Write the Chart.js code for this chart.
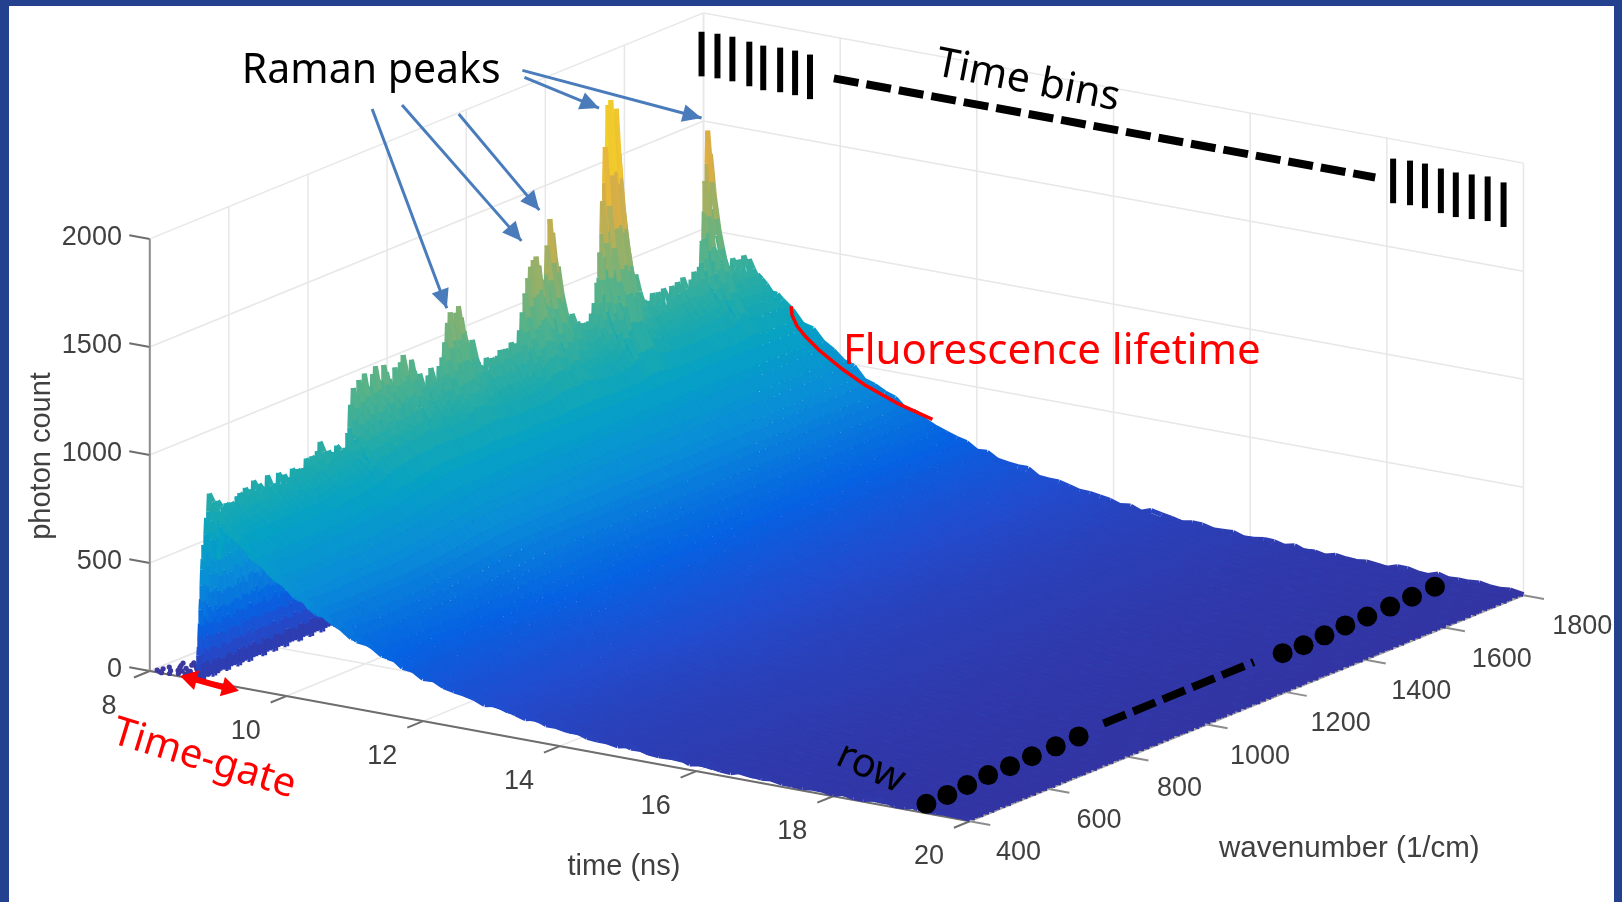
<!DOCTYPE html>
<html lang="en">

<head>
    <meta charset="UTF-8">
    <title>Time-gated Raman surface</title>
    <script src="https://cdn.jsdelivr.net/npm/chart.js"></script>
    <style>
        html, body { margin: 0; background: #fff; overflow: hidden; }
        #plot { position: absolute; left: 0; top: 0; }
        #frame {
            position: absolute; left: 0; top: 0; width: 1622px; height: 902px; box-sizing: border-box;
            border-style: solid; border-color: #24418f; border-width: 6px 8px 0 9px; pointer-events: none;
        }
    </style>
</head>

<body>
    <canvas id="plot" width="1622" height="902"></canvas>
    <div id="frame"></div>

    <script>
        const timeTicks = [8, 10, 12, 14, 16, 18, 20];
        const waveTicks = [400, 600, 800, 1000, 1200, 1400, 1600, 1800];
        const countTicks = [0, 500, 1000, 1500, 2000];

        // photon count along the top ridge, one value every 7 1/cm from 400 to 1800
        const ridgeCounts = [
            620, 740, 855, 795, 770, 800, 750, 745, 775, 735,
            765, 725, 780, 800, 755, 810, 765, 795, 825, 775,
            805, 750, 780, 820, 775, 745, 775, 810, 760, 795,
            745, 770, 810, 770, 800, 755, 795, 830, 795, 835,
            785, 845, 880, 825, 795, 825, 775, 805, 835, 785,
            765, 805, 870, 990, 1070, 1030, 1095, 1040, 1110, 1050,
            1035, 1100, 1125, 1060, 1040, 1120, 1075, 1045, 1010, 1085,
            1040, 1100, 1120, 1040, 1000, 1085, 1035, 995, 1010, 940,
            915, 980, 1015, 955, 945, 1010, 1035, 1110, 1190, 1235,
            1165, 1225, 1245, 1190, 1125, 1070, 1030, 1060, 980, 950,
            930, 890, 960, 895, 950, 890, 945, 965, 900, 955,
            915, 980, 920, 970, 1015, 1100, 1180, 1250, 1290, 1320,
            1335, 1280, 1215, 1200, 1365, 1477, 1410, 1280, 1245, 1110,
            985, 1010, 950, 1000, 925, 955, 895, 935, 880, 935,
            960, 1010, 1090, 1230, 1460, 1710, 1890, 1917, 1820, 1860,
            1650, 1370, 1120, 1070, 1110, 1010, 1060, 950, 860, 925,
            860, 915, 940, 870, 930, 875, 940, 860, 910, 935,
            870, 940, 890, 955, 895, 870, 935, 960, 890, 970,
            1090, 1360, 1592, 1470, 1220, 1020, 940, 890, 940, 870,
            920, 955, 880, 935, 870, 940, 860, 910, 830, 835,
            828
        ];

        // the smooth fluorescence level under that ridge, same wavenumbers
        const fluorCounts = [
            620, 720, 746, 748, 750, 750, 750, 750, 748, 746,
            744, 742, 740, 740, 742, 744, 746, 748, 750, 752,
            752, 752, 752, 752, 752, 752, 752, 752, 754, 754,
            754, 754, 756, 756, 758, 758, 760, 762, 764, 766,
            768, 770, 772, 774, 776, 778, 780, 782, 786, 790,
            794, 798, 802, 806, 810, 814, 818, 822, 826, 830,
            834, 838, 840, 844, 846, 850, 852, 854, 856, 858,
            860, 860, 860, 860, 860, 860, 860, 860, 860, 860,
            860, 860, 860, 860, 860, 860, 860, 860, 860, 860,
            860, 860, 860, 860, 860, 860, 860, 860, 860, 860,
            860, 860, 860, 860, 860, 860, 860, 860, 860, 860,
            860, 860, 860, 860, 860, 860, 860, 860, 860, 860,
            860, 860, 860, 860, 860, 860, 860, 860, 860, 860,
            860, 860, 860, 860, 860, 860, 860, 860, 860, 860,
            860, 860, 860, 860, 860, 860, 860, 860, 860, 860,
            860, 860, 860, 860, 860, 860, 860, 860, 860, 860,
            860, 860, 860, 860, 860, 860, 860, 860, 860, 860,
            860, 860, 860, 860, 860, 860, 860, 860, 860, 860,
            860, 860, 860, 860, 860, 860, 860, 860, 860, 860,
            860, 860, 860, 860, 860, 855, 850, 845, 830, 828,
            825
        ];

        // sample times, with the fluorescence fraction and the prompt Raman fraction left at each one
        const decayTimes = [
            8.700, 8.708, 8.716, 8.724, 8.732, 8.740, 8.748, 8.756, 8.764, 8.772, 8.780, 8.790,
            8.85, 8.92, 9.00, 9.08, 9.15, 9.30, 9.45, 9.60, 9.75, 9.90, 10.05, 10.20, 10.35, 10.50, 10.65,
            10.80, 10.95, 11.10, 11.25, 11.40, 11.55, 11.70, 11.85, 12.00, 12.15, 12.30, 12.45,
            12.60, 12.75, 12.90, 13.05, 13.20, 13.35, 13.50, 13.65, 13.80, 13.95, 14.10, 14.25,
            14.40, 14.55, 14.70, 14.85, 15.00, 15.15, 15.30, 15.45, 15.60, 15.75, 15.90, 16.05,
            16.20, 16.35, 16.50, 16.65, 16.80, 16.95, 17.10, 17.25, 17.40, 17.55, 17.70, 17.85,
            18.00, 18.15, 18.30, 18.45, 18.60, 18.75, 18.90, 19.05, 19.20, 19.35, 19.50, 19.65,
            19.80, 20.00
        ];
        const decayLevels = [
            0, 0.08, 0.16, 0.24, 0.32, 0.40, 0.50, 0.60, 0.70, 0.80, 0.90, 1,
            0.985, 0.95, 0.92, 0.90, 0.875, 0.84, 0.775, 0.75, 0.68, 0.66, 0.60, 0.58, 0.525, 0.505, 0.46,
            0.445, 0.40, 0.385, 0.36, 0.33, 0.315, 0.285, 0.275, 0.245, 0.237, 0.212, 0.206,
            0.184, 0.18, 0.158, 0.153, 0.136, 0.134, 0.116, 0.113, 0.10, 0.098, 0.085, 0.084,
            0.071, 0.071, 0.061, 0.061, 0.052, 0.052, 0.044, 0.045, 0.037, 0.038, 0.031, 0.032,
            0.026, 0.028, 0.022, 0.024, 0.018, 0.021, 0.015, 0.018, 0.013, 0.016, 0.011, 0.014,
            0.010, 0.012, 0.008, 0.011, 0.007, 0.010, 0.006, 0.008, 0.005, 0.007, 0.004, 0.006,
            0.003, 0.002
        ];
        const promptLevels = [
            0, 0.08, 0.16, 0.24, 0.32, 0.40, 0.50, 0.60, 0.70, 0.80, 0.90, 1,
            0.7, 0.5, 0.35, 0.25, 0.15, 0.06, 0.02,
            0, 0, 0, 0, 0, 0, 0, 0, 0, 0,
            0, 0, 0, 0, 0, 0, 0, 0, 0, 0,
            0, 0, 0, 0, 0, 0, 0, 0, 0, 0,
            0, 0, 0, 0, 0, 0, 0, 0, 0, 0,
            0, 0, 0, 0, 0, 0, 0, 0, 0, 0,
            0, 0, 0, 0, 0, 0, 0, 0, 0, 0,
            0, 0, 0, 0, 0, 0, 0, 0, 0, 0
        ];

        // shot noise on the surface, counts, walked through by wavenumber and time
        const shotNoise = [
            5, 2, 9, 3, 11, 1, 7, 4, 12, 2, 8, 1, 10, 5, 7, 3, 12, 2, 6, 9,
            1, 11, 4, 7, 2, 10, 5, 1, 9, 3, 12, 2, 7, 5, 11, 3, 8
        ];

        // sparse counts before the gate opens
        const gateTimes = [
            8.05, 8.10, 8.12, 8.18, 8.20, 8.24, 8.27, 8.30, 8.31, 8.35, 8.38, 8.40, 8.42, 8.45, 8.47, 8.50, 8.52, 8.55,
            8.57, 8.60, 8.62, 8.64, 8.66, 8.68, 8.08, 8.16, 8.22, 8.28, 8.33, 8.37, 8.43, 8.48, 8.53, 8.58, 8.63, 8.67,
            8.14, 8.26, 8.36, 8.44, 8.51, 8.59, 8.65, 8.34, 8.41, 8.49, 8.56, 8.61, 8.46, 8.54, 8.69, 8.39, 8.29, 8.62
        ];
        const gateWaves = [
            410, 432, 405, 448, 418, 470, 425, 440, 480, 412, 462, 500, 430, 478, 408, 452, 510, 425,
            468, 440, 498, 415, 520, 455, 420, 402, 438, 458, 425, 490, 445, 515, 470, 408, 478, 432,
            460, 405, 455, 415, 435, 495, 480, 505, 470, 420, 505, 460, 530, 445, 410, 430, 490, 505
        ];

        const colorLevels = [0, 30, 120, 250, 450, 650, 800, 1050, 1250, 1500, 1900];
        const colorValues = [
            [52, 50, 158], [46, 60, 176], [34, 76, 206], [6, 98, 226], [10, 140, 216], [6, 162, 196],
            [30, 170, 172], [84, 178, 138], [150, 176, 104], [226, 174, 66], [250, 220, 30]
        ];

        function project(t, w, z) {
            return {
                x: 146.5 + (t - 8) * 68.67 + (w - 400) * 0.3975,
                y: 673 + (t - 8) * 12.63 - (w - 400) * 0.16286 - z * 0.218
            };
        }

        function colorFor(z) {
            let i = 0;
            while (i < colorLevels.length - 2 && z > colorLevels[i + 1]) i++;
            const f = Math.min(1, (z - colorLevels[i]) / (colorLevels[i + 1] - colorLevels[i]));
            const a = colorValues[i], b = colorValues[i + 1];
            return `rgb(${a[0] + (b[0] - a[0]) * f}, ${a[1] + (b[1] - a[1]) * f}, ${a[2] + (b[2] - a[2]) * f})`;
        }

        function lineSet(points, color, width) {
            return { data: points, showLine: true, borderColor: color, borderWidth: width, pointRadius: 0 };
        }

        const datasets = [];

        // strips of the surface, nearest first because dataset 0 is painted last
        ridgeCounts.forEach(function (count, i) {
            const w = 400 + i * 7;
            const fluor = fluorCounts[i];
            const raman = Math.max(0, count - fluor);
            const edge = (i < 1 || i > 199) ? 1.5 : 1;
            const heights = decayLevels.map(function (level, j) {
                const noise = shotNoise[(i + j * 5) % shotNoise.length] * edge;
                // the first strips stay at the full fluorescence level once the decay has started
                const base = i < 2 && j > 14 ? 800 : fluor;
                return level === 0 ? 0 : base * level + raman * promptLevels[j] + noise;
            });
            datasets.push({
                data: decayTimes.map((t, j) => project(t, w, heights[j])),
                showLine: true,
                borderWidth: 5,
                borderCapStyle: 'butt',
                pointRadius: 0,
                segment: {
                    borderColor: ctx => colorFor((heights[ctx.p0DataIndex] + heights[ctx.p1DataIndex]) / 2)
                }
            });
        });

        datasets.push({
            data: gateTimes.map((t, i) => project(t, gateWaves[i], 0)),
            pointRadius: 2.6,
            pointBorderWidth: 0,
            pointBackgroundColor: '#3b38a0'
        });

        // axes and their ticks
        const timeAxis = lineSet([project(8, 400, 0), project(20, 400, 0)], '#6e6e6e', 2);
        const waveAxis = lineSet([project(20, 400, 0), project(20, 1800, 0)], '#a2a2a2', 2);
        const countAxis = lineSet([project(8, 400, 0), project(8, 400, 2000)], '#8c8c8c', 2);
        datasets.push(timeAxis, waveAxis, countAxis);
        timeTicks.forEach(t => datasets.push(lineSet([project(t, 400, 0), project(t, 360, 0)], '#6e6e6e', 2)));
        waveTicks.forEach(w => datasets.push(lineSet([project(20, w, 0), project(20.3, w, 0)], '#8c8c8c', 2)));
        countTicks.forEach(z => datasets.push(lineSet([project(8, 400, z), project(7.7, 400, z)], '#6e6e6e', 2)));

        // grid on the floor and the two back walls
        const gridColor = '#e7e7e7';
        timeTicks.forEach(function (t) {
            datasets.push(lineSet([project(t, 400, 0), project(t, 1800, 0)], gridColor, 1.5));
            datasets.push(lineSet([project(t, 1800, 0), project(t, 1800, 2000)], gridColor, 1.5));
        });
        waveTicks.forEach(function (w) {
            datasets.push(lineSet([project(8, w, 0), project(20, w, 0)], gridColor, 1.5));
            datasets.push(lineSet([project(8, w, 0), project(8, w, 2000)], gridColor, 1.5));
        });
        countTicks.forEach(function (z) {
            datasets.push(lineSet([project(8, 400, z), project(8, 1800, z)], gridColor, 1.5));
            datasets.push(lineSet([project(8, 1800, z), project(20, 1800, z)], gridColor, 1.5));
        });

        const labelPlugin = {
            id: 'labels',
            afterDatasetsDraw(chart) {
                const c = chart.ctx;
                const px = v => chart.scales.x.getPixelForValue(v);
                const py = v => chart.scales.y.getPixelForValue(v);

                function text(str, x, y, font, color, angle, align) {
                    c.save();
                    c.translate(px(x), py(y));
                    c.rotate((angle || 0) * Math.PI / 180);
                    c.font = font;
                    c.fillStyle = color;
                    c.textAlign = align || 'center';
                    c.textBaseline = 'middle';
                    c.fillText(str, 0, 0);
                    c.restore();
                }

                function stroke(points, color, width, dash) {
                    c.save();
                    c.beginPath();
                    points.forEach((p, i) => i ? c.lineTo(px(p[0]), py(p[1])) : c.moveTo(px(p[0]), py(p[1])));
                    c.strokeStyle = color;
                    c.lineWidth = width;
                    c.lineJoin = 'round';
                    c.setLineDash(dash || []);
                    c.stroke();
                    c.restore();
                }

                function head(from, to, color, len, half) {
                    const a = Math.atan2(to[1] - from[1], to[0] - from[0]);
                    c.save();
                    c.translate(px(to[0]), py(to[1]));
                    c.rotate(a);
                    c.beginPath();
                    c.moveTo(0, 0);
                    c.lineTo(-len, half);
                    c.lineTo(-len, -half);
                    c.closePath();
                    c.fillStyle = color;
                    c.fill();
                    c.restore();
                }

                const tickFont = '27px "Liberation Sans"';
                const ink = '#404040';
                timeTicks.forEach(function (t) {
                    const p = project(t, 400, 0);
                    text(String(t), p.x - 41, p.y + 36, tickFont, ink);
                });
                waveTicks.forEach(function (w) {
                    const p = project(20, w, 0);
                    text(String(w), p.x + 49 + (w - 400) / 140, p.y + 32, tickFont, ink);
                });
                countTicks.forEach(function (z) {
                    const p = project(8, 400, z);
                    text(String(z), p.x - 28, p.y - 1, tickFont, ink, 0, 'right');
                });
                text('time (ns)', 623, 871, '29px "Liberation Sans"', ink);
                text('wavenumber (1/cm)', 1352, 852, '29.5px "Liberation Sans"', ink);
                text('photon count', 38, 456, '29px "Liberation Sans"', ink, -90);

                // blue arrows to the Raman peaks
                const blue = '#4a7cbc';
                [
                    [[370, 106], [445, 307]],
                    [[400, 102], [520, 239]],
                    [[457, 111], [538, 208]],
                    [[523, 74], [598, 105]],
                    [[521, 67], [701, 115]]
                ].forEach(function (a) {
                    stroke(a, blue, 3);
                    head(a[0], a[1], blue, 19, 9);
                });
                text('Raman peaks', 369, 68, '41px "Noto Sans"', '#000');

                // time bins above the surface
                [[701, 28], [717, 30], [732, 33], [749, 38], [763, 42], [780, 44], [795, 47], [810, 51],
                 [1396, 156], [1413, 158], [1428, 161], [1444, 166], [1459, 170], [1475, 172], [1491, 174], [1507, 180]
                ].forEach(b => stroke([b, [b[0], b[1] + 45]], '#000', 6));
                stroke([[834, 75], [1378, 175]], '#000', 8, [25, 8]);
                text('Time bins', 1029, 78, '41px "Noto Sans"', '#000', 11);

                // one row of the detector along the front of the surface
                [[927, 807], [948, 798], [968, 788], [989, 778], [1011, 769], [1033, 759], [1057, 749], [1080, 739],
                 [1285, 655], [1306, 647], [1327, 637], [1348, 627], [1370, 618], [1393, 608], [1415, 598], [1438, 588]
                ].forEach(function (d) {
                    c.beginPath();
                    c.arc(px(d[0]), py(d[1]), 10, 0, Math.PI * 2);
                    c.fillStyle = '#000';
                    c.fill();
                });
                stroke([[1105, 726], [1256, 664]], '#000', 8, [24, 8]);
                text('row', 871, 771, '40px "Noto Sans"', '#000', 25);

                // red notes
                stroke([[791, 305], [792, 314], [797, 325], [806, 336], [820, 350], [842, 368], [866, 385], [900, 404], [933, 419]], '#ff0000', 3.5);
                text('Fluorescence lifetime', 1053, 351, '42px "Noto Sans"', '#ff0000');
                stroke([[190, 681], [223, 690]], '#ff0000', 6);
                head([223, 690], [177, 678], '#ff0000', 17, 10);
                head([190, 681], [236, 693], '#ff0000', 17, 10);
                text('Time-gate', 201, 762, '40px "Noto Sans"', '#ff0000', 17);
            }
        };

        new Chart(document.getElementById('plot'), {
            type: 'scatter',
            data: { datasets: datasets },
            options: {
                responsive: false,
                animation: false,
                events: [],
                layout: { padding: 0 },
                plugins: { legend: { display: false }, tooltip: { enabled: false } },
                scales: {
                    x: { display: false, type: 'linear', min: 0, max: 1622 },
                    y: { display: false, type: 'linear', min: 0, max: 902, reverse: true }
                }
            },
            plugins: [labelPlugin]
        });
    </script>
</body>

</html>
